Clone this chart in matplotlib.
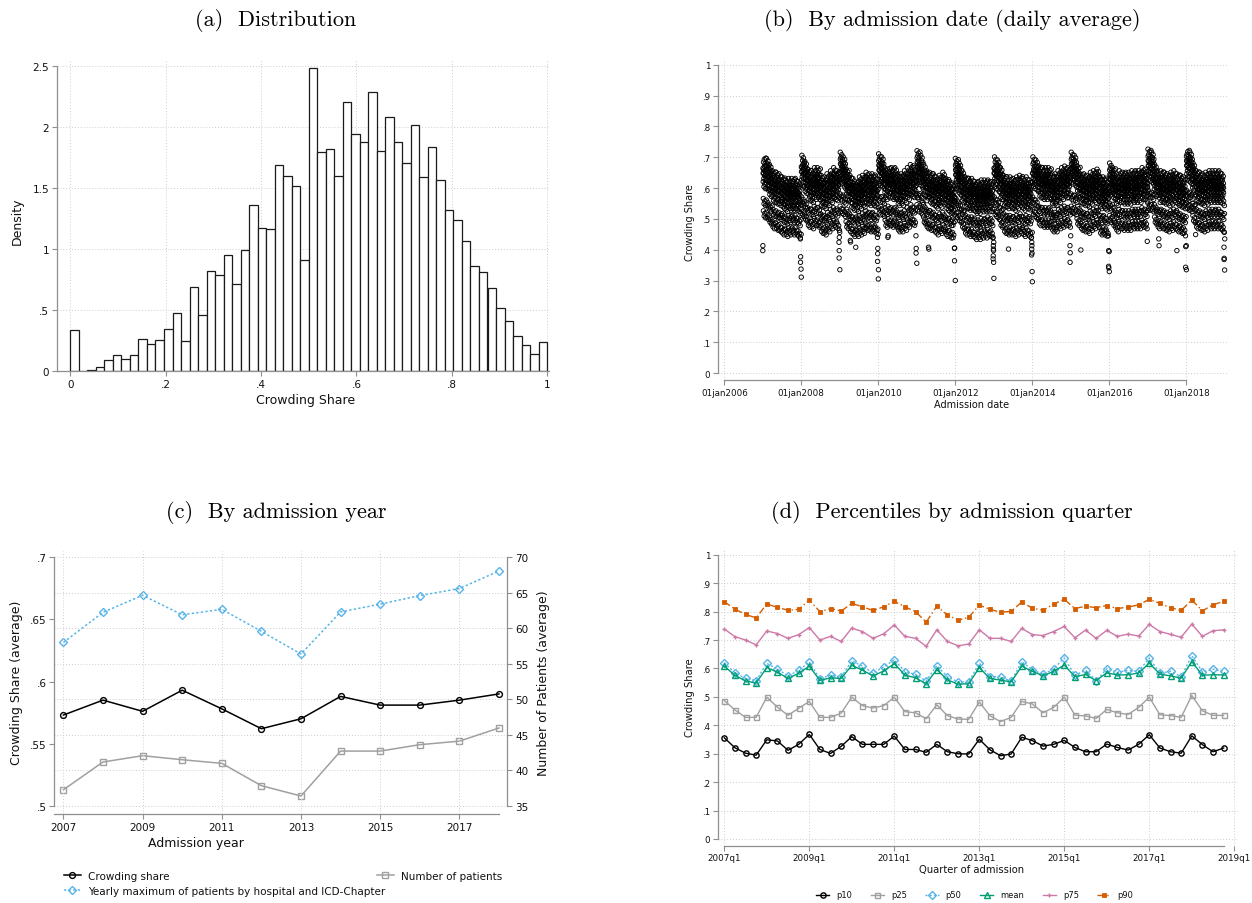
import datetime as dt
import numpy as np
import pandas as pd
import matplotlib
matplotlib.use("Agg")
import matplotlib.pyplot as plt
import matplotlib.dates as mdates

plt.rcParams['font.family'] = 'DejaVu Sans'

# ---------------------------------------------------------------- data
# (a) histogram of crowding share, 56 equal bins on [0, 1]
HIST_DENSITY = [0.336, 0.003, 0.011, 0.036, 0.087, 0.128, 0.098, 0.134, 0.260, 0.224,
                0.257, 0.342, 0.473, 0.243, 0.689, 0.456, 0.817, 0.784, 0.948, 0.710,
                0.989, 1.363, 1.175, 1.167, 1.694, 1.596, 1.519, 0.913, 2.484, 1.798,
                1.825, 1.598, 2.210, 1.943, 1.883, 2.287, 1.809, 2.087, 1.883, 1.710,
                2.016, 1.593, 1.836, 1.571, 1.317, 1.240, 1.063, 0.863, 0.809, 0.683,
                0.514, 0.413, 0.284, 0.216, 0.142, 0.235]
HIST_XTICKS = [0, 0.2, 0.4, 0.6, 0.8, 1.0]
HIST_YTICKS = [0, 0.5, 1.0, 1.5, 2.0, 2.5]

# (b) daily average crowding share: monthly level of weekdays / weekends (2007-2018)
WEEKDAY_LEVEL = [
    [.645, .640, .620, .600, .595, .590, .580, .570, .575, .575, .575, .565],
    [.650, .630, .605, .600, .610, .610, .585, .580, .590, .600, .610, .600],
    [.660, .645, .605, .585, .575, .570, .580, .585, .595, .590, .590, .580],
    [.655, .645, .610, .615, .610, .610, .590, .590, .600, .610, .620, .610],
    [.665, .650, .620, .600, .595, .590, .580, .585, .595, .575, .565, .560],
    [.640, .625, .600, .580, .575, .575, .565, .565, .570, .570, .570, .565],
    [.645, .635, .610, .585, .580, .580, .575, .580, .585, .575, .580, .570],
    [.645, .635, .615, .610, .610, .610, .590, .590, .600, .610, .615, .610],
    [.660, .650, .615, .595, .590, .585, .595, .600, .605, .580, .580, .570],
    [.625, .610, .590, .600, .595, .595, .595, .600, .600, .600, .610, .605],
    [.670, .660, .620, .600, .600, .595, .590, .595, .600, .590, .585, .580],
    [.670, .660, .625, .600, .595, .590, .595, .600, .600, .600, .600, .590],
]
WEEKEND_LEVEL = [
    [.535, .530, .515, .500, .495, .490, .480, .475, .480, .480, .480, .470],
    [.540, .525, .505, .500, .510, .505, .485, .480, .490, .500, .505, .495],
    [.550, .540, .500, .485, .475, .475, .480, .485, .495, .490, .490, .480],
    [.545, .540, .505, .510, .505, .505, .490, .490, .495, .505, .515, .505],
    [.555, .545, .515, .500, .495, .490, .480, .485, .490, .475, .470, .465],
    [.535, .520, .500, .480, .475, .475, .465, .465, .470, .470, .475, .470],
    [.540, .530, .505, .485, .480, .480, .475, .480, .485, .475, .480, .470],
    [.540, .530, .510, .505, .505, .505, .490, .490, .500, .505, .510, .505],
    [.550, .545, .510, .495, .490, .485, .495, .500, .505, .480, .480, .470],
    [.520, .505, .490, .500, .495, .495, .495, .500, .500, .500, .505, .500],
    [.560, .555, .515, .500, .500, .495, .490, .495, .500, .490, .485, .480],
    [.560, .555, .520, .500, .495, .490, .495, .500, .500, .500, .500, .490],
]
WEEKDAY_SPREAD = [0.045, 0.022, 0.008, -0.008, -0.035]   # Mon..Fri
WEEKEND_SPREAD = [0.020, -0.020]                          # Sat, Sun
WEEK_OF_MONTH_SHIFT = [0.011, -0.006, 0.003, -0.012, 0.007]
HOLIDAY_POINTS = [
    ("2007-01-01", .397), ("2007-01-02", .413),
    ("2007-12-24", .435), ("2007-12-25", .359), ("2007-12-26", .377),
    ("2007-12-30", .337), ("2007-12-31", .450), ("2008-01-01", .311),
    ("2008-12-24", .424), ("2008-12-25", .373), ("2008-12-26", .397),
    ("2008-12-27", .440), ("2008-12-31", .456), ("2009-01-01", .335),
    ("2009-04-10", .430), ("2009-04-13", .425), ("2009-06-01", .408),
    ("2009-12-24", .440), ("2009-12-25", .362), ("2009-12-26", .387),
    ("2009-12-27", .404), ("2009-12-28", .467), ("2009-12-31", .450),
    ("2010-01-01", .305), ("2010-01-02", .335),
    ("2010-04-02", .440), ("2010-04-05", .445),
    ("2010-12-24", .445), ("2010-12-25", .389), ("2010-12-26", .404), ("2011-01-01", .356),
    ("2011-04-22", .408), ("2011-04-25", .402),
    ("2011-12-24", .405), ("2011-12-25", .364), ("2011-12-26", .405), ("2012-01-01", .300),
    ("2012-12-24", .440), ("2012-12-25", .370), ("2012-12-26", .380), ("2012-12-27", .413),
    ("2012-12-28", .402), ("2012-12-29", .397), ("2012-12-30", .359), ("2012-12-31", .424),
    ("2013-01-01", .307), ("2013-05-20", .402),
    ("2013-12-24", .440), ("2013-12-25", .383), ("2013-12-26", .402), ("2013-12-27", .424),
    ("2013-12-28", .413), ("2013-12-29", .389), ("2013-12-30", .329), ("2013-12-31", .456),
    ("2014-01-01", .296),
    ("2014-12-24", .413), ("2014-12-25", .359), ("2014-12-26", .390), ("2014-12-31", .445),
    ("2015-04-06", .399),
    ("2015-12-24", .445), ("2015-12-25", .346), ("2015-12-26", .397), ("2015-12-27", .341),
    ("2015-12-31", .394), ("2016-01-01", .329),
    ("2016-12-26", .427), ("2017-04-14", .435), ("2017-04-17", .413), ("2017-10-03", .397),
    ("2017-12-24", .445), ("2017-12-25", .343), ("2017-12-26", .410), ("2017-12-31", .413),
    ("2018-01-01", .335), ("2018-03-30", .449),
    ("2018-12-24", .408), ("2018-12-25", .368), ("2018-12-26", .372), ("2018-12-27", .456),
    ("2018-12-30", .334), ("2018-12-31", .435),
]
DATE_TICK_YEARS = [2006, 2008, 2010, 2012, 2014, 2016, 2018]
SHARE_TICKS = [0, .1, .2, .3, .4, .5, .6, .7, .8, .9, 1]

# (c) yearly averages
YEARS = [2007, 2008, 2009, 2010, 2011, 2012, 2013, 2014, 2015, 2016, 2017, 2018]
CROWDING_SHARE = [.573, .585, .576, .593, .578, .562, .570, .588, .581, .581, .585, .590]
N_PATIENTS = [37.25, 41.16, 42.05, 41.48, 40.97, 37.82, 36.37, 42.70, 42.70, 43.60, 44.10, 45.95]
YEARLY_MAX = [58.0, 62.25, 64.65, 61.9, 62.67, 59.57, 56.37, 62.3, 63.4, 64.6, 65.6, 68.07]
YEAR_TICKS = [2007, 2009, 2011, 2013, 2015, 2017]
LEFT_TICKS_C = [.5, .55, .6, .65, .7]
RIGHT_TICKS_C = [35, 40, 45, 50, 55, 60, 65, 70]

# (d) percentiles by quarter, 2007q1 .. 2018q4
P10 = [.356, .321, .302, .295, .349, .345, .312, .333, .368, .315, .301, .326,
       .360, .333, .333, .333, .362, .315, .315, .305, .333, .307, .300, .299,
       .351, .314, .293, .299, .358, .346, .327, .333, .347, .322, .307, .307,
       .334, .322, .313, .333, .367, .320, .307, .302, .363, .332, .307, .320]
P25 = [.487, .454, .428, .428, .499, .464, .435, .460, .484, .428, .428, .443,
       .499, .469, .461, .469, .499, .448, .444, .423, .472, .434, .422, .421,
       .482, .434, .413, .428, .484, .475, .444, .463, .499, .436, .433, .424,
       .456, .444, .438, .463, .499, .437, .434, .428, .505, .451, .435, .435]
P50 = [.620, .585, .565, .557, .618, .598, .574, .593, .623, .563, .577, .570,
       .627, .608, .584, .605, .631, .589, .579, .556, .610, .571, .553, .552,
       .619, .571, .571, .555, .624, .596, .579, .599, .637, .576, .594, .557,
       .599, .587, .593, .590, .637, .583, .590, .571, .645, .588, .597, .590]
MEAN = [.608, .576, .556, .549, .603, .587, .565, .583, .608, .558, .567, .565,
        .611, .594, .574, .591, .617, .577, .567, .546, .596, .560, .545, .546,
        .603, .565, .559, .553, .608, .590, .574, .590, .612, .571, .579, .557,
        .585, .577, .578, .584, .619, .580, .574, .566, .624, .576, .578, .577]
P75 = [.739, .712, .700, .683, .732, .723, .706, .719, .744, .700, .713, .695,
       .742, .730, .706, .722, .753, .713, .706, .678, .736, .695, .680, .686,
       .736, .706, .706, .695, .741, .719, .716, .730, .748, .708, .735, .706,
       .734, .713, .721, .714, .755, .730, .720, .710, .756, .713, .733, .736]
P90 = [.835, .809, .790, .778, .827, .815, .805, .808, .841, .800, .811, .802,
       .829, .817, .804, .817, .836, .817, .800, .763, .819, .788, .770, .780,
       .823, .808, .798, .801, .834, .812, .805, .827, .843, .811, .819, .814,
       .821, .811, .816, .824, .843, .829, .814, .804, .841, .803, .824, .836]
QUARTER_TICK_LABELS = ["2007q1", "2009q1", "2011q1", "2013q1", "2015q1", "2017q1", "2019q1"]

# ---------------------------------------------------------------- styling
FIG_W, FIG_H = 1252, 904
AXIS_GREY = '#8f8f8f'
GRID_GREY = '#cdcdcd'
BLUE = '#56b4e9'
GREEN = '#009e73'
PINK = '#cc79a7'
ORANGE = '#d55e00'
GREY = '#a0a0a0'

fig = plt.figure(figsize=(FIG_W / 100, FIG_H / 100), dpi=100)


def axes_px(left, top, right, bottom):
    return fig.add_axes([left / FIG_W, 1 - bottom / FIG_H,
                         (right - left) / FIG_W, (bottom - top) / FIG_H])


def stata_label(v):
    s = f"{v:g}"
    return s[1:] if s.startswith("0.") else s


def base_style(ax, tick_size):
    for side in ('top', 'right'):
        ax.spines[side].set_visible(False)
    for side in ('left', 'bottom'):
        ax.spines[side].set_color(AXIS_GREY)
        ax.spines[side].set_linewidth(0.9)
    ax.tick_params(axis='both', colors=AXIS_GREY, labelcolor='#111111',
                   labelsize=tick_size, length=3.5, width=0.8, pad=2)
    ax.set_axisbelow(True)


def grid(ax, axis='both'):
    ax.grid(True, axis=axis, linestyle=(0, (1, 2)), color=GRID_GREY, linewidth=0.7)


def label_at(ax, which, text, px, py, size):
    """Place an axis title with its centre at the given pixel position."""
    bb = ax.get_position()
    x0, y0 = bb.x0 * FIG_W, (1 - bb.y1) * FIG_H
    w, h = bb.width * FIG_W, bb.height * FIG_H
    ax_x = (px - x0) / w
    ax_y = 1 - (py - y0) / h
    if which == 'x':
        ax.set_xlabel(text, fontsize=size, color='#111111')
        ax.xaxis.set_label_coords(ax_x, ax_y)
        ax.xaxis.label.set_va('center')
    else:
        ax.set_ylabel(text, fontsize=size, color='#111111')
        ax.yaxis.set_label_coords(ax_x, ax_y)
        ax.yaxis.label.set_va('center')
        ax.yaxis.label.set_ha('center')


def title_at(text, px, py):
    fig.text(px / FIG_W, 1 - py / FIG_H, text, family='cmr10', fontsize=16,
             ha='center', va='center', color='black')


# ---------------------------------------------------------------- (a) distribution
ax_a = axes_px(57, 60, 549, 372)
n_bins = len(HIST_DENSITY)
edges = np.linspace(0, 1, n_bins + 1)
ax_a.bar(edges[:-1], HIST_DENSITY, width=np.diff(edges), align='edge',
         facecolor='white', edgecolor='#1a1a1a', linewidth=0.9)
ax_a.set_xlim(-0.028, 1.004)
ax_a.set_ylim(0, 2.56)
base_style(ax_a, 7.5)
grid(ax_a)
ax_a.set_xticks(HIST_XTICKS, [stata_label(v) for v in HIST_XTICKS])
ax_a.set_yticks(HIST_YTICKS, [stata_label(v) for v in HIST_YTICKS])
ax_a.spines['left'].set_bounds(0, 2.5)
label_at(ax_a, 'x', 'Crowding Share', 306, 401, 9)
label_at(ax_a, 'y', 'Density', 17, 221, 9)
title_at('(a)  Distribution', 276, 21)

# ---------------------------------------------------------------- (b) daily scatter
ax_b = axes_px(717.7, 60, 1228, 381)
days = pd.date_range("2007-01-01", "2018-12-31", freq="D")
daily = np.empty(len(days))
for i, d in enumerate(days):
    yi, mi, wd = d.year - 2007, d.month - 1, d.weekday()
    week_shift = WEEK_OF_MONTH_SHIFT[(d.day - 1) // 7]
    if wd < 5:
        daily[i] = WEEKDAY_LEVEL[yi][mi] + WEEKDAY_SPREAD[wd] + week_shift
    else:
        daily[i] = WEEKEND_LEVEL[yi][mi] + WEEKEND_SPREAD[wd - 5] + week_shift
holiday_lookup = {pd.Timestamp(k): v for k, v in HOLIDAY_POINTS}
for i, d in enumerate(days):
    if d in holiday_lookup:
        daily[i] = holiday_lookup[d]
ax_b.scatter(days, daily, s=10, facecolors='none', edgecolors='black', linewidths=0.65)
t0 = mdates.date2num(dt.date(2006, 1, 1))
ax_b.set_xlim(t0 - 62.6, t0 + 4778)
ax_b.set_ylim(-0.0227, 1.0185)
base_style(ax_b, 6.3)
grid(ax_b)
date_ticks = [mdates.date2num(dt.date(y, 1, 1)) for y in DATE_TICK_YEARS]
ax_b.set_xticks(date_ticks, [f"01jan{y}" for y in DATE_TICK_YEARS])
ax_b.set_yticks(SHARE_TICKS, [stata_label(v) for v in SHARE_TICKS])
ax_b.spines['left'].set_bounds(0, 1)
ax_b.spines['bottom'].set_bounds(date_ticks[0], date_ticks[-1])
label_at(ax_b, 'x', 'Admission date', 972, 405.5, 7)
label_at(ax_b, 'y', 'Crowding Share', 690, 223, 7)
title_at('(b)  By admission date (daily average)', 952, 21)

# ---------------------------------------------------------------- (c) by year
ax_c = axes_px(54.3, 551.7, 507.3, 815.3)
ax_c2 = ax_c.twinx()
ax_c.set_zorder(ax_c2.get_zorder() + 1)
ax_c.patch.set_visible(False)
line_cs, = ax_c.plot(YEARS, CROWDING_SHARE, color='black', lw=1.1, marker='o',
                     ms=4.2, mfc='none', mew=1.0)
line_max, = ax_c2.plot(YEARS, YEARLY_MAX, color=BLUE, lw=1.1, ls=(0, (1.5, 1.5)),
                       marker='D', ms=3.6, mfc='none', mew=1.0)
line_np, = ax_c2.plot(YEARS, N_PATIENTS, color=GREY, lw=1.1, marker='s',
                      ms=3.8, mfc='none', mew=1.0)
ax_c.set_xlim(2006.77, 2018.21)
ax_c.set_ylim(0.4931, 0.7053)
ax_c2.set_ylim(35 + (0.4931 - 0.5) * 175, 35 + (0.7053 - 0.5) * 175)
base_style(ax_c, 7.5)
grid(ax_c, 'x')
ax_c2.spines['top'].set_visible(False)
ax_c2.spines['left'].set_visible(False)
ax_c2.spines['bottom'].set_visible(False)
ax_c2.spines['right'].set_color(AXIS_GREY)
ax_c2.spines['right'].set_linewidth(0.9)
ax_c2.tick_params(axis='y', colors=AXIS_GREY, labelcolor='#111111', labelsize=7.5,
                  length=3.5, width=0.8, pad=2)
ax_c2.set_axisbelow(True)
grid(ax_c2, 'y')
ax_c.set_xticks(YEAR_TICKS, [str(y) for y in YEAR_TICKS])
ax_c.set_yticks(LEFT_TICKS_C, [stata_label(v) for v in LEFT_TICKS_C])
ax_c2.set_yticks(RIGHT_TICKS_C, [str(v) for v in RIGHT_TICKS_C])
ax_c.spines['left'].set_bounds(0.5, 0.7)
ax_c2.spines['right'].set_bounds(35, 70)
ax_c.spines['bottom'].set_bounds(2006.77, 2018)
label_at(ax_c, 'x', 'Admission year', 196, 843.5, 9)
label_at(ax_c, 'y', 'Crowding Share (average)', 17, 683, 9)
label_at(ax_c2, 'y', 'Number of Patients (average)', 543, 683, 9)
ax_c2.yaxis.label.set_rotation(90)
title_at('(c)  By admission year', 276, 512)


def legend_at(handles, labels, x_px, y_px, size, ncol=1, colsp=2.0, hl=1.6, htp=0.7):
    fig.legend(handles, labels, loc='center left',
               bbox_to_anchor=(x_px / FIG_W, 1 - y_px / FIG_H), ncol=ncol,
               frameon=False, fontsize=size, borderpad=0, borderaxespad=0,
               handlelength=hl, handletextpad=htp, columnspacing=colsp,
               labelcolor='#111111')


legend_at([line_cs], ['Crowding share'], 64, 876.7, 7.5)
legend_at([line_np], ['Number of patients'], 377, 876.7, 7.5)
legend_at([line_max], ['Yearly maximum of patients by hospital and ICD-Chapter'], 64, 891.7, 7.5)

# ---------------------------------------------------------------- (d) by quarter
ax_d = axes_px(717.7, 550, 1238, 846.7)
q = np.arange(len(P10))
series = [
    (P10, 'p10', dict(color='black', ls='-', marker='o', ms=3.8, mfc='none', mew=1.0)),
    (P25, 'p25', dict(color=GREY, ls='-', marker='s', ms=3.6, mfc='none', mew=1.0)),
    (P50, 'p50', dict(color=BLUE, ls=(0, (1.5, 1.5)), marker='D', ms=3.6, mfc='none', mew=1.0)),
    (MEAN, 'mean', dict(color=GREEN, ls='-', marker='^', ms=3.8, mfc='none', mew=1.0)),
    (P75, 'p75', dict(color=PINK, ls='-', marker='+', ms=3.5, mew=1.0)),
    (P90, 'p90', dict(color=ORANGE, ls=(0, (5, 2, 1, 2)), marker='s', ms=2.2, mew=0.6)),
]
d_handles = []
for vals, name, kw in series:
    ln, = ax_d.plot(q, vals, lw=1.0, **kw)
    d_handles.append(ln)
ax_d.set_xlim(-0.62, 48.35)
ax_d.set_ylim(-0.0236, 1.0204)
base_style(ax_d, 6.3)
grid(ax_d)
ax_d.set_xticks(np.arange(0, 49, 8), QUARTER_TICK_LABELS)
ax_d.set_yticks(SHARE_TICKS, [stata_label(v) for v in SHARE_TICKS])
ax_d.spines['left'].set_bounds(0, 1)
ax_d.spines['bottom'].set_bounds(0, len(P10) - 1)
label_at(ax_d, 'x', 'Quarter of admission', 972, 870, 7.2)
label_at(ax_d, 'y', 'Crowding Share', 690, 698, 7.2)
title_at('(d)  Percentiles by admission quarter', 952, 512)
legend_at(d_handles, [s[1] for s in series], 816, 896, 6, ncol=6, colsp=2.2,
          hl=1.6, htp=0.85)

fig.savefig('out.png', dpi=100)
